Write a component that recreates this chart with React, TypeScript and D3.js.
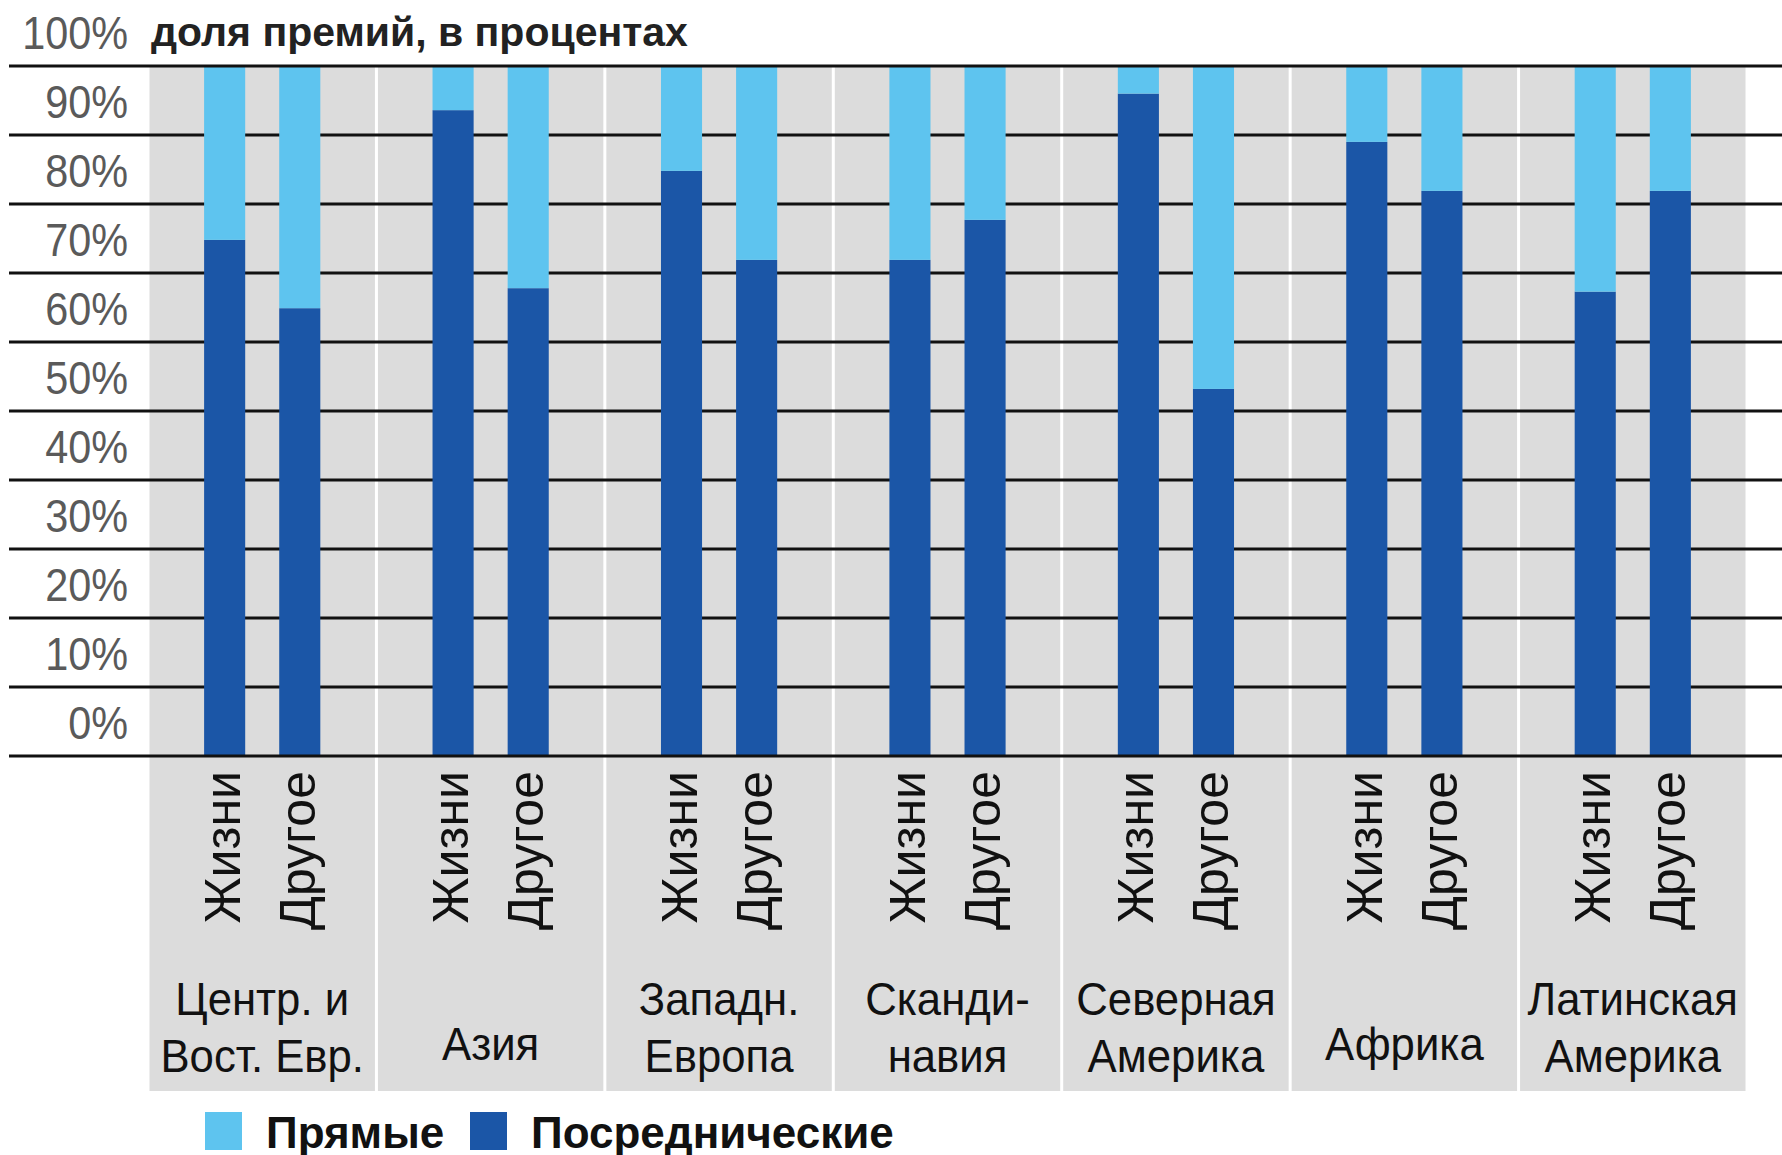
// @ts-nocheck
import * as d3 from "d3";
import { useRef, useEffect } from "react";

const regionLines = [
  ["Центр. и", "Вост. Евр."],
  ["Азия"],
  ["Западн.", "Европа"],
  ["Сканди-", "навия"],
  ["Северная", "Америка"],
  ["Африка"],
  ["Латинская", "Америка"],
];
const regions = regionLines.map((l) => l.join(" "));
const lines = ["Жизни", "Другое"];

// посреднические (нижняя часть), в процентах
const brokerLife = [74.8, 93.6, 84.8, 71.9, 96.0, 89.0, 67.3];
const brokerOther = [64.9, 67.8, 71.9, 77.7, 53.2, 81.9, 81.9];
// прямые (верхняя часть)
const directLife = [25.2, 6.4, 15.2, 28.1, 4.0, 11.0, 32.7];
const directOther = [35.1, 32.2, 28.1, 22.3, 46.8, 18.1, 18.1];

const yTicks = [0, 10, 20, 30, 40, 50, 60, 70, 80, 90, 100];
const seriesKeys = ["broker", "direct"];
const legendLabels = ["Прямые", "Посреднические"];

const LIGHT = "#5ec4ef";
const DARK = "#1b56a7";
const PANEL = "#dcdcdc";
const FONT = "'Liberation Sans', Arial, sans-serif";

export default function App() {
  const ref = useRef();

  useEffect(() => {
    document.body.style.margin = "0";
    const width = 1782;
    const height = 1155;
    const svg = d3.select(ref.current).attr("width", width).attr("height", height);
    svg.selectAll("*").remove();

    const top = 66;
    const bottom = 756;
    const panelBottom = 1091;

    const y = d3.scaleLinear().domain([0, 100]).range([bottom, top]);
    const x0 = d3.scaleBand().domain(regions).range([148, 1747]).paddingInner(0);
    const x1 = d3
      .scaleBand()
      .domain(lines)
      .range([0, x0.bandwidth()])
      .paddingInner(0.453)
      .paddingOuter(0.747);

    const rows = [];
    regions.forEach((r, i) => {
      rows.push({ region: r, line: lines[0], broker: brokerLife[i], direct: directLife[i] });
      rows.push({ region: r, line: lines[1], broker: brokerOther[i], direct: directOther[i] });
    });
    const stacked = d3.stack().keys(seriesKeys)(rows);

    // grey panels
    svg
      .append("g")
      .selectAll("rect")
      .data(regions)
      .join("rect")
      .attr("x", (d) => x0(d) + 1.5)
      .attr("y", top)
      .attr("width", x0.bandwidth() - 3)
      .attr("height", panelBottom - top)
      .attr("fill", PANEL);

    // inner grid lines (under bars)
    svg
      .append("g")
      .selectAll("line")
      .data(yTicks.filter((t) => t !== 0 && t !== 100))
      .join("line")
      .attr("x1", 9)
      .attr("x2", width)
      .attr("y1", (d) => y(d))
      .attr("y2", (d) => y(d))
      .attr("stroke", "#111")
      .attr("stroke-width", 3);

    // bars
    svg
      .append("g")
      .selectAll("g")
      .data(stacked)
      .join("g")
      .attr("fill", (s) => (s.key === "broker" ? DARK : LIGHT))
      .selectAll("rect")
      .data((s) => s)
      .join("rect")
      .attr("x", (d) => x0(d.data.region) + x1(d.data.line))
      .attr("width", x1.bandwidth())
      .attr("y", (d) => y(Math.min(d[1], 100)))
      .attr("height", (d) => y(d[0]) - y(Math.min(d[1], 100)));

    // top and bottom lines over bars
    svg
      .append("g")
      .selectAll("line")
      .data([0, 100])
      .join("line")
      .attr("x1", 9)
      .attr("x2", width)
      .attr("y1", (d) => y(d))
      .attr("y2", (d) => y(d))
      .attr("stroke", "#111")
      .attr("stroke-width", 3);

    // y tick labels
    svg
      .append("g")
      .selectAll("text")
      .data(yTicks)
      .join("text")
      .attr("transform", (d) => "translate(128," + (y(d) - 17) + ") scale(0.9,1)")
      .attr("text-anchor", "end")
      .attr("font-family", FONT)
      .attr("font-size", 46)
      .attr("fill", "#5a5a5a")
      .text((d) => d + "%");

    // title
    svg
      .append("text")
      .attr("x", 151)
      .attr("y", 46)
      .attr("font-family", FONT)
      .attr("font-size", 41)
      .attr("font-weight", "bold")
      .attr("fill", "#222")
      .text("доля премий, в процентах");

    // rotated category labels
    svg
      .append("g")
      .selectAll("text")
      .data(rows)
      .join("text")
      .attr("transform", (d) => {
        const cx = x0(d.region) + x1(d.line) + x1.bandwidth() / 2 + 15;
        return "translate(" + cx + "," + 771 + ") rotate(-90)";
      })
      .attr("text-anchor", "end")
      .attr("font-family", FONT)
      .attr("font-size", 50)
      .attr("fill", "#111")
      .text((d) => d.line);

    // region labels, one text per line
    const labelItems = [];
    regions.forEach((r, i) => {
      const parts = regionLines[i];
      parts.forEach((p, j) => {
        labelItems.push({
          region: r,
          text: p,
          y: parts.length === 1 ? 1060 : 1015 + j * 57,
        });
      });
    });
    svg
      .append("g")
      .selectAll("text")
      .data(labelItems)
      .join("text")
      .attr(
        "transform",
        (d) => "translate(" + (x0(d.region) + x0.bandwidth() / 2) + "," + d.y + ") scale(0.93,1)"
      )
      .attr("text-anchor", "middle")
      .attr("font-family", FONT)
      .attr("font-size", 47)
      .attr("fill", "#111")
      .text((d) => d.text);

    // legend
    const legend = svg.append("g").attr("transform", "translate(205,1112)");
    const legX = [0, 265];
    legendLabels.forEach((l, i) => {
      legend
        .append("rect")
        .attr("x", legX[i])
        .attr("y", 0)
        .attr("width", 37)
        .attr("height", 38)
        .attr("fill", i === 0 ? LIGHT : DARK);
      legend
        .append("text")
        .attr("x", legX[i] + 61)
        .attr("y", 36)
        .attr("font-family", FONT)
        .attr("font-size", 44)
        .attr("font-weight", "bold")
        .attr("fill", "#111")
        .text(l);
    });
  }, []);

  return <svg ref={ref} style={{ display: "block", background: "#fff" }}></svg>;
}
